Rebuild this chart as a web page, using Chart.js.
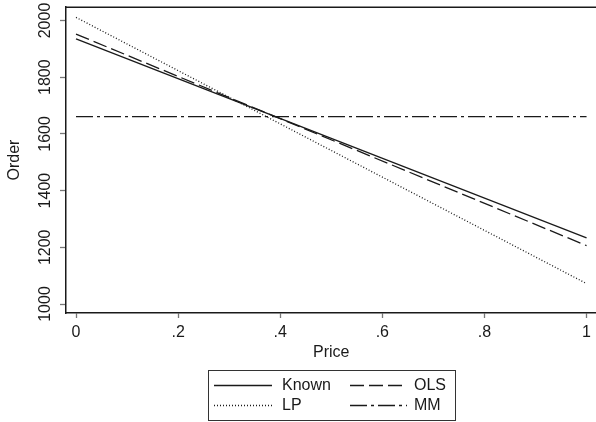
<!DOCTYPE html>
<html>
<head>
<meta charset="utf-8">
<script src="https://cdn.jsdelivr.net/npm/chart.js@4.4.1/dist/chart.umd.min.js"></script>
<style>
  html, body { margin: 0; padding: 0; background: #fff; }
  #wrap { width: 596px; height: 422px; position: relative; }
</style>
</head>
<body>
<div id="wrap"><canvas id="c" width="596" height="422"></canvas></div>
<script>
// ---- data ----
const seriesNames = ['Known', 'OLS', 'LP', 'MM'];
const priceValues = [0, 1];
const knownValues = [1935, 1233];
const olsValues = [1952, 1206];
const lpValues = [2011, 1072];
const mmValues = [1661, 1661];
const xTickValues = [0, 0.2, 0.4, 0.6, 0.8, 1];
const xTickLabels = ['0', '.2', '.4', '.6', '.8', '1'];
const yTickValues = [1000, 1200, 1400, 1600, 1800, 2000];
const yTickLabels = ['1000', '1200', '1400', '1600', '1800', '2000'];
const xTitle = 'Price';
const yTitle = 'Order';

const FONT = '"Liberation Sans", Arial, Helvetica, sans-serif';
const INK = '#1a1a1a';

const styles = {
  Known: [],
  OLS: [14, 5],
  LP: [1, 2],
  MM: [17, 4, 3, 4]
};

function pts(vals) { return priceValues.map((p, i) => ({ x: p, y: vals[i] })); }
const valueMap = { Known: knownValues, OLS: olsValues, LP: lpValues, MM: mmValues };

const datasets = seriesNames.map(n => ({
  label: n,
  data: pts(valueMap[n]),
  borderColor: INK,
  borderWidth: 1.3,
  borderDash: styles[n],
  pointRadius: 0,
  fill: false,
  tension: 0
}));

const extras = {
  id: 'extras',
  afterDraw(chart) {
    const ctx = chart.ctx;
    const ca = chart.chartArea;
    const ys = chart.scales.y;
    const xs = chart.scales.x;
    ctx.save();
    // top frame line
    ctx.strokeStyle = INK;
    ctx.lineWidth = 1.5;
    ctx.beginPath();
    ctx.moveTo(ca.left, ca.top + 0.25);
    ctx.lineTo(ca.right + 2, ca.top + 0.25);
    ctx.stroke();
    // y tick labels (rotated)
    ctx.fillStyle = INK;
    ctx.font = '16px ' + FONT;
    ctx.textAlign = 'center';
    ctx.textBaseline = 'middle';
    yTickValues.forEach((v, i) => {
      const py = ys.getPixelForValue(v);
      ctx.save();
      ctx.translate(46, py);
      ctx.rotate(-Math.PI / 2);
      ctx.fillText(yTickLabels[i], 0, 0);
      ctx.restore();
    });
    // y title
    ctx.save();
    ctx.translate(15, (ca.top + ca.bottom) / 2);
    ctx.rotate(-Math.PI / 2);
    ctx.fillText(yTitle, 0, 0);
    ctx.restore();
    // x title
    ctx.fillText(xTitle, xs.getPixelForValue(0.5), 353);
    // legend
    const bx = 208, by = 370, bw = 247, bh = 50;
    ctx.strokeStyle = '#333';
    ctx.lineWidth = 1;
    ctx.strokeRect(bx + 0.5, by + 0.5, bw, bh);
    const layout = [
      { name: 'Known', x1: 214, x2: 272, tx: 282, y: 385 },
      { name: 'OLS', x1: 350, x2: 407, tx: 414, y: 385 },
      { name: 'LP', x1: 214, x2: 272, tx: 282, y: 405 },
      { name: 'MM', x1: 350, x2: 407, tx: 414, y: 405 }
    ];
    ctx.textAlign = 'left';
    layout.forEach(l => {
      const ds = datasets.find(d => d.label === l.name);
      ctx.strokeStyle = ds.borderColor;
      ctx.lineWidth = ds.borderWidth;
      ctx.setLineDash(ds.borderDash);
      ctx.beginPath();
      ctx.moveTo(l.x1, l.y + 0.5);
      ctx.lineTo(l.x2, l.y + 0.5);
      ctx.stroke();
      ctx.setLineDash([]);
      ctx.fillText(l.name, l.tx, l.y + 1);
    });
    ctx.restore();
  }
};

new Chart(document.getElementById('c'), {
  type: 'line',
  data: { datasets },
  options: {
    responsive: false,
    animation: false,
    devicePixelRatio: 1,
    layout: { padding: { left: 0, right: 0, top: 7, bottom: 0 } },
    plugins: { legend: { display: false }, tooltip: { enabled: false } },
    scales: {
      x: {
        type: 'linear',
        min: -0.0196,
        max: 1.0176,
        afterFit(s) { s.height = 109; },
        afterBuildTicks(s) { s.ticks = xTickValues.map(v => ({ value: v })); },
        ticks: {
          color: INK,
          font: { family: FONT, size: 16 },
          padding: 5,
          maxRotation: 0,
          autoSkip: false,
          callback(v) { const i = xTickValues.indexOf(v); return i >= 0 ? xTickLabels[i] : ''; }
        },
        grid: { drawOnChartArea: false, drawTicks: true, tickLength: 5, tickColor: '#777', tickWidth: 1.3 },
        border: { display: true, color: INK, width: 1.5 }
      },
      y: {
        type: 'linear',
        min: 968.3,
        max: 2047.6,
        afterFit(s) { s.width = 66; },
        afterBuildTicks(s) { s.ticks = yTickValues.map(v => ({ value: v })); },
        ticks: { display: false },
        grid: { drawOnChartArea: false, drawTicks: true, tickLength: 6, tickColor: '#777', tickWidth: 1.3 },
        border: { display: true, color: INK, width: 1.5 }
      }
    }
  },
  plugins: [extras]
});
</script>
</body>
</html>
